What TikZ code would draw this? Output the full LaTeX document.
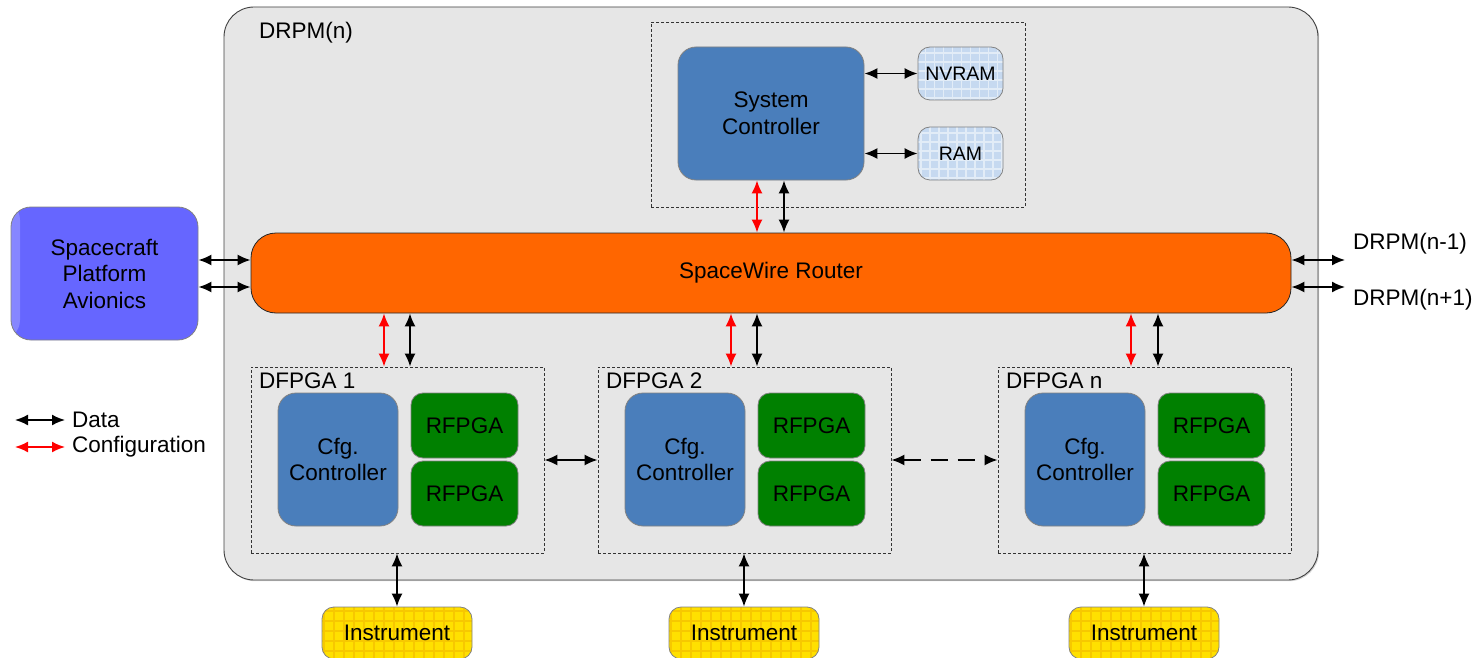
\documentclass[tikz,border=0pt]{standalone}
\usepackage{fontspec}
\setmainfont{Liberation Sans}
\usetikzlibrary{arrows.meta,shadows}

\definecolor{panelgray}{RGB}{230,230,230}
\definecolor{ctrlblue}{RGB}{74,126,187}
\definecolor{memblue}{RGB}{198,217,240}
\definecolor{routerorange}{RGB}{255,102,0}
\definecolor{avionics}{RGB}{102,102,255}
\definecolor{avionicslight}{RGB}{135,135,255}
\definecolor{fpgagreen}{RGB}{0,128,0}
\definecolor{instyellow}{RGB}{255,224,0}
\definecolor{instgrid}{RGB}{245,190,0}
\definecolor{edgegray}{RGB}{130,130,130}

\newcommand\dfont{\fontsize{22.5}{26.5}\selectfont}
\newcommand\sfont{\fontsize{19.5}{24}\selectfont}

\tikzset{
  block/.style={draw=edgegray, line width=0.8pt, rounded corners=18pt, align=center,
    inner sep=0pt, font=\dfont},
  ctrl/.style={block, fill=ctrlblue},
  rfpga/.style={block, fill=fpgagreen, rounded corners=12pt},
  mem/.style={block, fill=memblue, rounded corners=12pt, font=\sfont,
    path picture={\draw[white, opacity=0.5, line width=1.6pt]
      (path picture bounding box.south west) grid[step=9pt] (path picture bounding box.north east);}},
  inst/.style={block, fill=instyellow, rounded corners=12pt,
    path picture={\draw[instgrid, opacity=0.7, line width=2pt]
      (path picture bounding box.south west) grid[step=10pt] (path picture bounding box.north east);}},
  groupbox/.style={draw=black!80, line width=0.8pt, dash pattern=on 3pt off 2pt, inner sep=0pt},
  data/.style={{Latex[length=13pt,width=11pt]}-{Latex[length=13pt,width=11pt]}, line width=1.7pt, black},
  cfg/.style={data, red},
  caption/.style={font=\dfont, anchor=west, inner sep=0pt},
}

\begin{document}
\begin{tikzpicture}[x=1pt,y=-1pt]
\useasboundingbox (0,0) rectangle (1475,658);

% DRPM(n) module
\node[draw=black!75, line width=0.9pt, fill=panelgray, rounded corners=30pt,
      minimum width=1094pt, minimum height=573pt,
      drop shadow={shadow xshift=1.2pt, shadow yshift=-1.2pt, opacity=0.35}]
      (module) at (771,293.5) {};
\node[caption] (modlabel) at (259,33) {DRPM(n)};

% system controller group
\node[groupbox, minimum width=374pt, minimum height=185pt] (sysgrp) at (838,114.5) {};
\node[ctrl, minimum width=186pt, minimum height=133pt] (sc) at (771,113.5) {System\\Controller};
\node[mem, minimum width=85pt, minimum height=53pt] (nvram) at (960.5,73.5) {NVRAM};
\node[mem, minimum width=85pt, minimum height=53pt] (ram) at (960.5,153.5) {RAM};

% router
\node[draw=black!85, line width=0.8pt, fill=routerorange, rounded corners=25pt,
      minimum width=1040pt, minimum height=80pt, font=\dfont] (router) at (771,273) {SpaceWire Router};

% spacecraft avionics
\node[block, fill=avionics, rounded corners=20pt, minimum width=187pt, minimum height=133pt,
      path picture={\shade[left color=avionicslight, right color=avionics]
        (path picture bounding box.south west) rectangle ++(9pt,140pt);}]
      (avio) at (104.5,273.5) {Spacecraft\\Platform\\Avionics};

% DFPGA groups
\foreach \n/\cx/\lab in {1/397.5/DFPGA 1, 2/744.5/DFPGA 2, 3/1144.5/DFPGA n}{
  \node[groupbox, minimum width=293pt, minimum height=186pt] (d\n) at (\cx,460) {};
  \node[caption] (dl\n) at (\cx-138.5,381) {\lab};
  \node[ctrl, minimum width=120pt, minimum height=133pt] (cfg\n) at (\cx-59.5,459.5) {Cfg.\\Controller};
  \node[rfpga, minimum width=107pt, minimum height=65pt] (rfa\n) at (\cx+67,425.5) {RFPGA};
  \node[rfpga, minimum width=107pt, minimum height=65pt] (rfb\n) at (\cx+67,493.5) {RFPGA};
}

% instruments
\node[inst, minimum width=150pt, minimum height=52pt] (inst1) at (397,633) {Instrument};
\node[inst, minimum width=150pt, minimum height=52pt] (inst2) at (744,633) {Instrument};
\node[inst, minimum width=150pt, minimum height=52pt] (inst3) at (1144,633) {Instrument};

% neighbour modules
\node[caption] (prev) at (1353,244) {DRPM(n-1)};
\node[caption] (next) at (1353,300) {DRPM(n+1)};
\coordinate (prevend) at (1345,260);
\coordinate (nextend) at (1345,287);

% links inside the system controller group
\draw[data] (sc.east |- nvram.west) -- (nvram.west);
\draw[data] (sc.east |- ram.west) -- (ram.west);

% router <-> system controller
\draw[cfg]  (757,0 |- router.north) -- (757,0 |- sc.south);
\draw[data] (784,0 |- router.north) -- (784,0 |- sc.south);

% avionics <-> router
\draw[data] (avio.east |- 0,260) -- (router.west |- 0,260);
\draw[data] (avio.east |- 0,287) -- (router.west |- 0,287);

% router <-> neighbour modules
\draw[data] (router.east |- prevend) -- (prevend);
\draw[data] (router.east |- nextend) -- (nextend);

% router <-> DFPGA groups
\draw[cfg]  (384,0 |- router.south) -- (384,0 |- d1.north);
\draw[data] (410,0 |- router.south) -- (410,0 |- d1.north);
\draw[cfg]  (731,0 |- router.south) -- (731,0 |- d2.north);
\draw[data] (757,0 |- router.south) -- (757,0 |- d2.north);
\draw[cfg]  (1131,0 |- router.south) -- (1131,0 |- d3.north);
\draw[data] (1158,0 |- router.south) -- (1158,0 |- d3.north);

% DFPGA chain
\draw[data] (d1.east) -- (d2.west);
\draw[data, dash pattern=on 17pt off 10pt] (d2.east) -- (d3.west);

% DFPGA <-> instruments
\draw[data] (inst1.north |- d1.south) -- (inst1.north);
\draw[data] (inst2.north |- d2.south) -- (inst2.north);
\draw[data] (inst3.north |- d3.south) -- (inst3.north);

% legend
\coordinate (lgda) at (15,420);
\coordinate (lgdb) at (65,420);
\coordinate (lgca) at (15,447);
\coordinate (lgcb) at (65,447);
\draw[data] (lgda) -- (lgdb);
\draw[cfg] (lgca) -- (lgcb);
\node[caption] (lgdata) at (72,420) {Data};
\node[caption] (lgcfg) at (72,447) {Configuration};
\end{tikzpicture}
\end{document}
